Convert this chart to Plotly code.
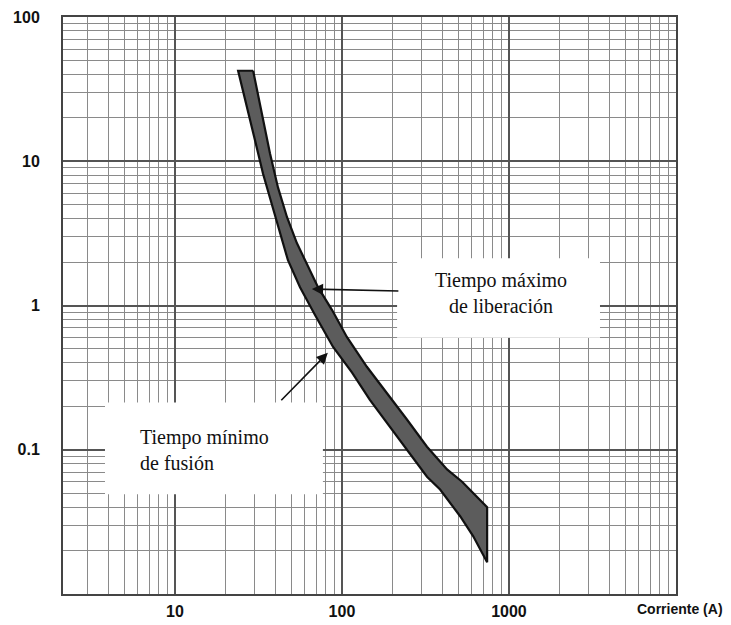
import plotly.graph_objects as go

# ---- data ----
# Upper/right edge of the band: "Tiempo máximo de liberación"
max_clear_current = [29.4, 33.2, 37.1, 41.4, 46.9, 53.8, 62.7, 71.9, 87.3, 107, 141, 186, 245, 323, 426, 524, 740]
max_clear_time = [42.4, 21.4, 11.3, 6.59, 4.09, 2.70, 1.84, 1.34, 0.93, 0.605, 0.376, 0.248, 0.162, 0.105, 0.073, 0.060, 0.040]

# Lower/left edge of the band: "Tiempo mínimo de fusión"
min_melt_current = [23.9, 27.0, 30.2, 33.7, 38.1, 42.6, 47.5, 56.1, 69.0, 88.5, 115, 147, 194, 245, 323, 387, 510, 610, 740]
min_melt_time = [42.4, 23.5, 13.9, 8.2, 5.1, 3.17, 2.06, 1.34, 0.86, 0.516, 0.342, 0.222, 0.145, 0.100, 0.065, 0.053, 0.0346, 0.0252, 0.0166]

x_tick_vals = [10, 100, 1000, 10000]
x_tick_text = ["10", "100", "1000", ""]
y_tick_vals = [0.01, 0.1, 1, 10, 100]
y_tick_text = ["", "0.1", "1", "10", "100"]

x_minor = [m * 10 ** e for e in range(0, 4) for m in range(2, 10)]
y_minor = [m * 10 ** e for e in range(-2, 2) for m in range(2, 10)]

band_x = max_clear_current + min_melt_current[::-1] + [max_clear_current[0]]
band_y = max_clear_time + min_melt_time[::-1] + [max_clear_time[0]]

fig = go.Figure()
fig.add_trace(go.Scatter(
    x=band_x, y=band_y, mode="lines", fill="toself",
    fillcolor="#5c5c5c", line=dict(color="#111111", width=2.2),
    hoverinfo="skip", showlegend=False,
))

tick_font = dict(family="Liberation Sans, Arial, sans-serif", size=16, color="#111111", weight="bold")

# the page body adds an 8px offset, so the figure is 8px smaller than the window
fig.update_layout(
    template="none",
    width=723, height=617,
    margin=dict(l=55, r=55, t=9, b=31),
    paper_bgcolor="white", plot_bgcolor="white",
    showlegend=False,
    xaxis=dict(
        type="log", range=[0.33, 4.0], automargin=False,
        tickmode="array", tickvals=x_tick_vals, ticktext=x_tick_text,
        showgrid=True, gridcolor="#555555", gridwidth=1.5,
        minor=dict(tickmode="array", tickvals=x_minor, showgrid=True, gridcolor="#8a8a8a", gridwidth=1, ticks=""),
        showline=True, linecolor="#444444", linewidth=2, mirror=True,
        ticks="", ticklabelstandoff=2, tickfont=tick_font, zeroline=False,
    ),
    yaxis=dict(
        type="log", range=[-2.0, 2.0], automargin=False,
        tickmode="array", tickvals=y_tick_vals, ticktext=y_tick_text,
        showgrid=True, gridcolor="#555555", gridwidth=1.5,
        minor=dict(tickmode="array", tickvals=y_minor, showgrid=True, gridcolor="#8a8a8a", gridwidth=1, ticks=""),
        showline=True, linecolor="#444444", linewidth=2, mirror=True,
        ticks="", ticklabelstandoff=18, tickfont=tick_font, zeroline=False,
    ),
)

# white label boxes covering the grid
fig.add_shape(type="rect", xref="paper", yref="paper", x0=0.545, x1=0.876, y0=0.444, y1=0.582,
              fillcolor="white", line=dict(width=0), layer="above")
fig.add_shape(type="rect", xref="paper", yref="paper", x0=0.0685, x1=0.424, y0=0.173, y1=0.332,
              fillcolor="white", line=dict(width=0), layer="above")

serif = dict(family="Liberation Serif, Times New Roman, serif", size=20, color="#111111")

fig.add_annotation(xref="paper", yref="paper", x=0.7145, y=0.5216, text="Tiempo máximo<br>de liberación",
                   showarrow=False, font=serif, align="center", xanchor="center", yanchor="middle")
fig.add_annotation(xref="paper", yref="paper", x=0.122, y=0.2504, text="Tiempo mínimo<br>de fusión",
                   showarrow=False, font=serif, align="left", xanchor="left", yanchor="middle")

# arrows
fig.add_annotation(xref="paper", yref="paper", x=0.406, y=0.5285, ax=88, ay=2, text="",
                   showarrow=True, arrowhead=2, arrowsize=1.4, arrowwidth=1.6, arrowcolor="#111111")
fig.add_annotation(xref="paper", yref="paper", x=0.432, y=0.418, ax=-48, ay=49, text="",
                   showarrow=True, arrowhead=2, arrowsize=1.4, arrowwidth=1.6, arrowcolor="#111111")

fig.add_annotation(xref="paper", yref="paper", x=1.08, y=-0.026, text="Corriente (A)",
                   showarrow=False, xanchor="right", yanchor="middle",
                   font=dict(family="Liberation Sans, Arial, sans-serif", size=14, color="#111111", weight="bold"))

fig.write_html("out.html")
